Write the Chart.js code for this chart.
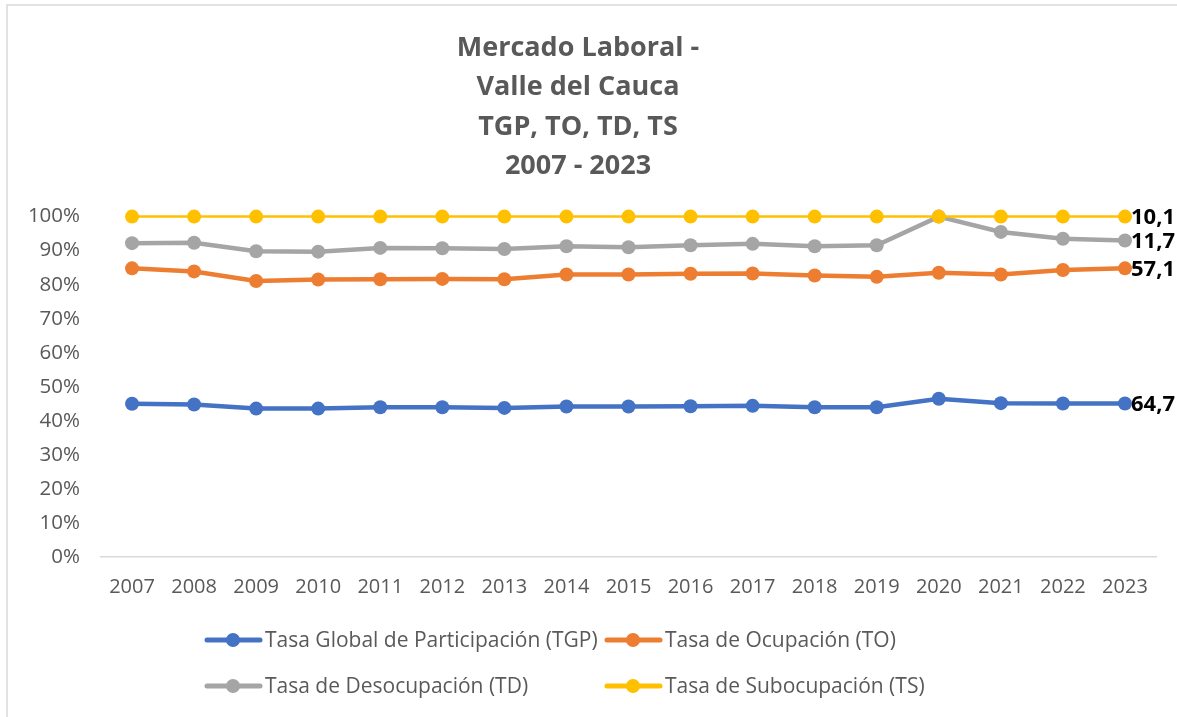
<!DOCTYPE html>
<html>
<head>
<meta charset="utf-8">
<script src="https://cdn.jsdelivr.net/npm/chart.js@4.4.0/dist/chart.umd.min.js"></script>
<style>
html,body{margin:0;padding:0;background:#fff;}
#wrap{position:relative;width:1177px;height:717px;}
</style>
</head>
<body>
<div id="wrap"><canvas id="c" width="1177" height="717"></canvas></div>
<script>
// Categories (years)
const years = ['2007','2008','2009','2010','2011','2012','2013','2014','2015','2016','2017','2018','2019','2020','2021','2022','2023'];

// Series names
const seriesNames = [
  'Tasa Global de Participación (TGP)',
  'Tasa de Ocupación (TO)',
  'Tasa de Desocupación (TD)',
  'Tasa de Subocupación (TS)'
];

// Plotted positions (100% stacked, cumulative %)
const tgpPct = [45.0, 44.8, 43.6, 43.6, 44.0, 44.0, 43.8, 44.2, 44.2, 44.3, 44.4, 44.0, 44.0, 46.5, 45.2, 45.1, 45.1];
const toPct  = [84.8, 83.9, 81.1, 81.5, 81.6, 81.7, 81.6, 83.0, 83.0, 83.2, 83.3, 82.7, 82.3, 83.5, 83.0, 84.3, 84.8];
const tdPct  = [92.2, 92.3, 89.8, 89.7, 90.8, 90.7, 90.5, 91.3, 91.0, 91.6, 92.0, 91.3, 91.6, 100.0, 95.5, 93.5, 93.0];
const tsPct  = [100, 100, 100, 100, 100, 100, 100, 100, 100, 100, 100, 100, 100, 100, 100, 100, 100];

// Data labels on the last point (original values)
const lastLabels = ['64,7', '57,1', '11,7', '10,1'];

// Y tick values
const yTicks = [0,10,20,30,40,50,60,70,80,90,100];

const colors = ['#4472C4', '#ED7D31', '#A5A5A5', '#FFC000'];
const seriesData = [tgpPct, toPct, tdPct, tsPct];
const lineWidths = [4.5, 4.5, 4.5, 2.5];

const GRAY = '#595959';
const FONT = "'Open Sans', 'DejaVu Sans', sans-serif";

const datasets = seriesData.map((d, i) => ({
  label: seriesNames[i],
  data: d,
  borderColor: colors[i],
  backgroundColor: colors[i],
  pointBackgroundColor: colors[i],
  pointBorderColor: colors[i],
  borderWidth: lineWidths[i],
  pointRadius: 7,
  pointBorderWidth: 0,
  pointHoverRadius: 7,
  tension: 0,
  clip: false,
  order: 3 - i
}));

const framePlugin = {
  id: 'frame',
  beforeDraw(chart) {
    const ctx = chart.ctx;
    ctx.save();
    ctx.fillStyle = '#fff';
    ctx.fillRect(0, 0, chart.width, chart.height);
    ctx.strokeStyle = '#D9D9D9';
    ctx.lineWidth = 1.5;
    ctx.beginPath();
    ctx.moveTo(7, chart.height);
    ctx.lineTo(7, 5);
    ctx.lineTo(chart.width, 5);
    ctx.stroke();
    ctx.restore();
  }
};

const lastLabelPlugin = {
  id: 'lastLabels',
  afterDatasetsDraw(chart) {
    const ctx = chart.ctx;
    ctx.save();
    ctx.font = "bold 22px " + FONT;
    ctx.fillStyle = '#000';
    ctx.textAlign = 'left';
    ctx.textBaseline = 'middle';
    chart.data.datasets.forEach((ds, i) => {
      const meta = chart.getDatasetMeta(i);
      const pt = meta.data[meta.data.length - 1];
      ctx.fillText(lastLabels[i], pt.x + 6, pt.y + 1);
    });
    ctx.restore();
  }
};

const legendPlugin = {
  id: 'customLegend',
  afterDraw(chart) {
    const ctx = chart.ctx;
    const cols = [205, 605];
    const rows = [640, 686];
    ctx.save();
    ctx.font = "21px " + FONT;
    ctx.textBaseline = 'middle';
    ctx.textAlign = 'left';
    seriesNames.forEach((name, i) => {
      const x = cols[i % 2];
      const y = rows[Math.floor(i / 2)];
      ctx.strokeStyle = colors[i];
      ctx.lineWidth = 5;
      ctx.lineCap = 'round';
      ctx.beginPath();
      ctx.moveTo(x + 2, y);
      ctx.lineTo(x + 55, y);
      ctx.stroke();
      ctx.fillStyle = colors[i];
      ctx.beginPath();
      ctx.arc(x + 28, y, 7, 0, Math.PI * 2);
      ctx.fill();
      ctx.fillStyle = GRAY;
      ctx.fillText(name, x + 60, y + 1);
    });
    ctx.restore();
  }
};

new Chart(document.getElementById('c'), {
  type: 'line',
  data: { labels: years, datasets: datasets },
  options: {
    responsive: false,
    animation: false,
    devicePixelRatio: 1,
    layout: { padding: { top: 0, left: 0, right: 21, bottom: 100 } },
    plugins: {
      legend: { display: false },
      tooltip: { enabled: false },
      title: {
        display: true,
        text: ['Mercado Laboral -', 'Valle del Cauca', 'TGP, TO, TD, TS', '2007 - 2023'],
        color: GRAY,
        font: { family: FONT, size: 27, weight: 'bold', lineHeight: 1.45 },
        padding: { top: 29, bottom: 31 }
      }
    },
    scales: {
      x: {
        type: 'category',
        offset: true,
        grid: { display: false, drawTicks: false },
        border: { display: true, color: '#D9D9D9', width: 1.5 },
        ticks: { color: GRAY, font: { family: FONT, size: 20 }, padding: 18, maxRotation: 0, autoSkip: false }
      },
      y: {
        min: 0,
        max: 100,
        afterBuildTicks(scale) { scale.ticks = yTicks.map(v => ({ value: v })); },
        afterFit(scale) { scale.width = 101; },
        grid: { display: false, drawTicks: false },
        border: { display: false },
        ticks: {
          color: GRAY,
          font: { family: FONT, size: 20.5 },
          padding: 21,
          callback: v => v + '%'
        }
      }
    }
  },
  plugins: [framePlugin, lastLabelPlugin, legendPlugin]
});
</script>
</body>
</html>
